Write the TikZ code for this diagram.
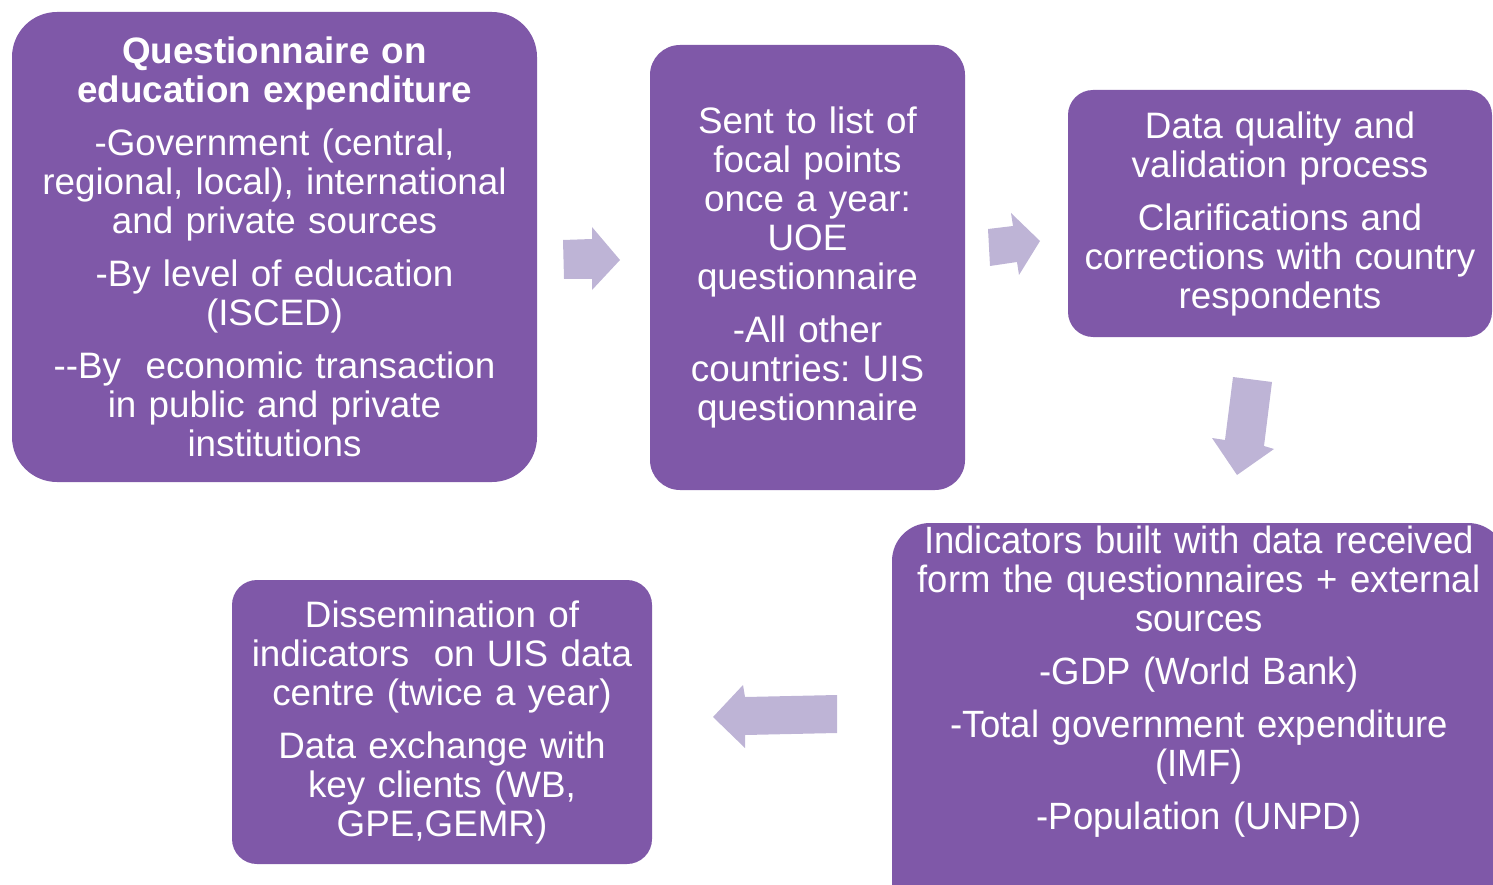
\documentclass[tikz,border=0pt]{standalone}
\usepackage{fontspec}
\setmainfont{Liberation Sans}
\newfontfamily\condfont[FakeStretch=0.96]{Liberation Sans}
\definecolor{boxpurple}{RGB}{127,88,168}
\definecolor{arrowlilac}{RGB}{190,180,214}
\frenchspacing
\begin{document}
\begin{tikzpicture}[x=1pt,y=-1pt,
  box/.style={fill=boxpurple, text=white, align=center, inner sep=0pt,
    font=\fontsize{36.8}{39}\selectfont},
  blockarrow/.style={fill=arrowlilac, draw=none}]
\useasboundingbox (0,0) rectangle (1493,885);
\clip (0,0) rectangle (1493,885);
% boxes
\node[box, rounded corners=45pt, minimum width=525pt, minimum height=470pt, text width=520pt]
  (q) at (274.5,247) {\textbf{Questionnaire on}\\\textbf{education expenditure}\\[14pt]
  -Government (central,\\regional, local), international\\and private sources\\[14pt]
  -By level of education\\(ISCED)\\[14pt]
  -{}-By\ \ economic transaction\\in public and private\\institutions};
\node[box, rounded corners=30pt, minimum width=315pt, minimum height=445pt, text width=310pt]
  (s) at (807.5,267.5) {Sent to list of\\focal points\\once a year:\\UOE\\questionnaire\\[14pt]
  -All other\\countries: UIS\\questionnaire};
\node[box, rounded corners=25pt, minimum width=424pt, minimum height=247pt, text width=420pt]
  (d) at (1280,213.5) {Data quality and\\validation process\\[14pt]
  Clarifications and\\corrections with country\\respondents};
\node[box, rounded corners=38pt, minimum width=614pt, minimum height=420pt]
  (i) at (1199,733) {};
\node[text=white, align=center, inner sep=0pt, anchor=north,
  font=\condfont\fontsize{38}{39}\selectfont, text width=600pt]
  (it) at (1199,526) {Indicators built with data received\\form the questionnaires + external\\sources\\[14pt]
  -GDP (World Bank)\\[14pt]
  -Total government expenditure\\(IMF)\\[14pt]
  -Population (UNPD)};
\node[box, rounded corners=25pt, minimum width=420pt, minimum height=284pt, text width=415pt]
  (m) at (442,722) {Dissemination of\\indicators\ \ on UIS data\\centre (twice a year)\\[14pt]
  Data exchange with\\key clients (WB,\\GPE,GEMR)};
% block arrows
\fill[blockarrow] (563,240) -- (592,239) -- (592,227) -- (620,260) -- (592,290) -- (592,279) -- (564,279) -- cycle;
\fill[blockarrow] (988,229) -- (1013,226) -- (1011,213) -- (1040,241) -- (1019,275) -- (1017,262) -- (990,266) -- cycle;
\fill[blockarrow] (1233,377) -- (1272,382) -- (1264,446) -- (1274,449) -- (1237,475) -- (1212,438) -- (1225,440) -- cycle;
\fill[blockarrow] (837,695) -- (837,733) -- (745,735) -- (745,748) -- (713,717) -- (743,685) -- (745,697) -- cycle;
\end{tikzpicture}
\end{document}
